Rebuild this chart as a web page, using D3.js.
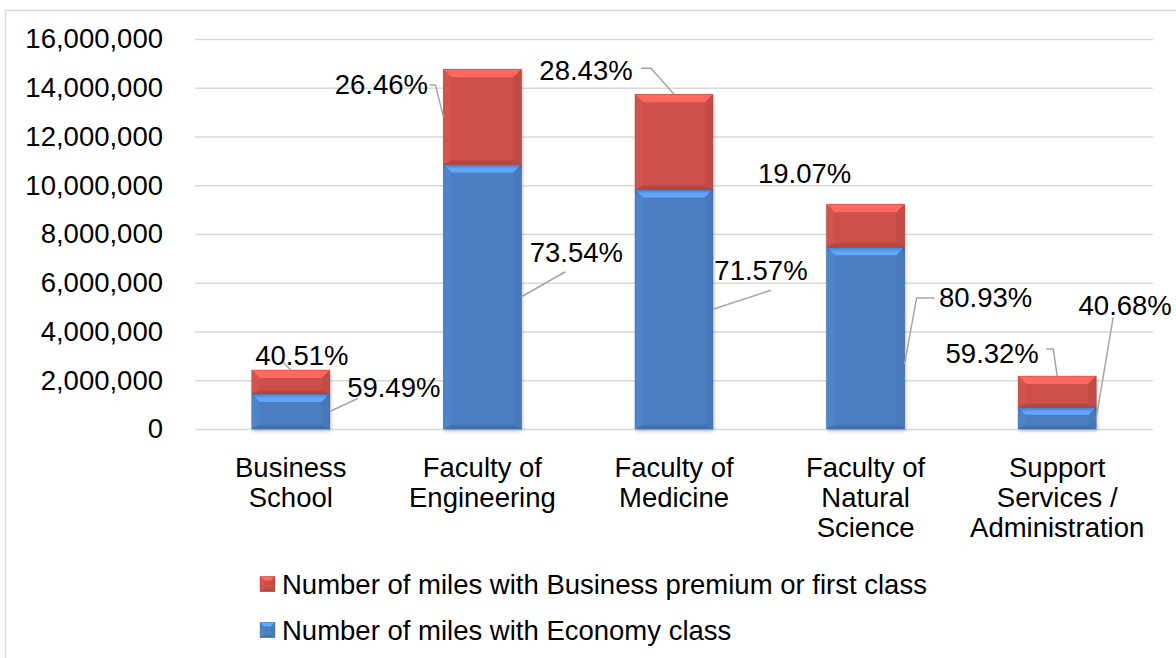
<!DOCTYPE html>
<html>
<head>
<meta charset="utf-8">
<script src="https://cdn.jsdelivr.net/npm/d3@7"></script>
<style>
  html, body { margin: 0; padding: 0; background: #fff; }
  svg text { font-family: "Liberation Sans", Arial, sans-serif; fill: #000; }
</style>
</head>
<body>
<svg class="chartSVG" width="1176" height="658"></svg>
<script>
// chart values
const categories = ['Business School', 'Faculty of Engineering', 'Faculty of Medicine', 'Faculty of Natural Science', 'Support Services / Administration'];
const categoryLines = [['Business', 'School'], ['Faculty of', 'Engineering'], ['Faculty of', 'Medicine'], ['Faculty of', 'Natural', 'Science'], ['Support', 'Services /', 'Administration']];
const economyMiles = [1440000, 10850000, 9830000, 7460000, 880000];
const businessMiles = [980000, 3910000, 3900000, 1760000, 1290000];
const economyPct = ['59.49%', '73.54%', '71.57%', '80.93%', '40.68%'];
const businessPct = ['40.51%', '26.46%', '28.43%', '19.07%', '59.32%'];
const yTicks = [0, 2000000, 4000000, 6000000, 8000000, 10000000, 12000000, 14000000, 16000000];
const seriesNames = ['Number of miles with Business premium or first class', 'Number of miles with Economy class'];

const width = 1176, height = 658;
const plot = { l: 195, r: 1153, t: 39, b: 429 };
const fontSize = 27.5;
const colors = { economy: '#4b7fc2', business: '#cc4f4a' };

const svg = d3.select('.chartSVG');

// outer frame of the chart area
svg.append('rect')
  .attr('x', 5.5).attr('y', 10.5)
  .attr('width', 1200).attr('height', 700)
  .attr('fill', '#fff')
  .attr('stroke', '#d9d9d9')
  .attr('stroke-width', 1.5);

const defs = svg.append('defs');
const shadow = defs.append('filter').attr('id', 'barShadow')
  .attr('x', '-10%').attr('y', '-10%').attr('width', '130%').attr('height', '130%');
shadow.append('feDropShadow')
  .attr('dx', 1).attr('dy', 2).attr('stdDeviation', 1.5)
  .attr('flood-color', '#000').attr('flood-opacity', 0.25);

const scaleX = d3.scaleBand()
  .domain(categories)
  .range([plot.l, plot.r])
  .paddingInner(0.593)
  .paddingOuter(0.2965);

const scaleY = d3.scaleLinear()
  .domain([0, 16000000])
  .range([plot.b, plot.t]);

// gridlines + y labels
const yAxis = svg.append('g')
  .attr('class', 'yAxis')
  .attr('transform', `translate(${plot.l}, 0)`)
  .call(d3.axisLeft(scaleY)
    .tickValues(yTicks)
    .tickSize(-(plot.r - plot.l))
    .tickPadding(32)
    .tickFormat(d3.format(',')));
yAxis.select('.domain').remove();
yAxis.selectAll('line').attr('stroke', '#d9d9d9').attr('stroke-width', 1.5);
yAxis.selectAll('text')
  .attr('font-size', fontSize)
  .attr('font-family', '"Liberation Sans", Arial, sans-serif')
  .attr('fill', '#000');

// stacked data
const stackData = categories.map((c, i) => ({ cat: c, economy: economyMiles[i], business: businessMiles[i] }));
const stack = d3.stack().keys(['economy', 'business'])(stackData);

function bevelSegment(g, x0, x1, y0, y1, color, maxB = 8) {
  const h = y1 - y0;
  const b = Math.min(maxB, h / 3);
  const bb = Math.min(4, h / 6);
  const base = d3.color(color);
  g.append('rect')
    .attr('x', x0).attr('y', y0)
    .attr('width', x1 - x0).attr('height', h)
    .attr('fill', color);
  const faces = [
    { pts: [[x0, y0], [x1, y0], [x1 - b, y0 + b], [x0 + b, y0 + b]], fill: base.brighter(0.75) },
    { pts: [[x0, y0], [x0 + b, y0 + b], [x0 + b, y1 - bb], [x0, y1]], fill: base.brighter(0.12) },
    { pts: [[x1, y0], [x1, y1], [x1 - b, y1 - bb], [x1 - b, y0 + b]], fill: base.darker(0.15) },
    { pts: [[x0, y1], [x0 + b, y1 - bb], [x1 - b, y1 - bb], [x1, y1]], fill: base.darker(0.35) }
  ];
  g.selectAll(null)
    .data(faces)
    .enter()
    .append('polygon')
    .attr('points', d => d.pts.map(p => p.join(',')).join(' '))
    .attr('fill', d => d.fill);
  g.append('rect')
    .attr('x', x0).attr('y', y0)
    .attr('width', x1 - x0).attr('height', h)
    .attr('fill', 'none')
    .attr('stroke', base.darker(0.8))
    .attr('stroke-opacity', 0.45)
    .attr('stroke-width', 0.8);
}

const barsG = svg.append('g').attr('class', 'bars');
stack.forEach(layer => {
  layer.forEach((d, i) => {
    const x0 = scaleX(categories[i]);
    const x1 = x0 + scaleX.bandwidth();
    const g = barsG.append('g').attr('filter', 'url(#barShadow)');
    bevelSegment(g, x0, x1, scaleY(d[1]), scaleY(d[0]), colors[layer.key]);
  });
});

// category labels
const xLabels = svg.append('g').attr('class', 'xLabel');
categoryLines.forEach((lines, i) => {
  const cx = scaleX(categories[i]) + scaleX.bandwidth() / 2;
  const t = xLabels.append('text')
    .attr('x', cx)
    .attr('y', 467)
    .attr('text-anchor', 'middle')
    .attr('font-size', fontSize);
  lines.forEach((ln, j) => {
    t.append('tspan')
      .attr('x', cx)
      .attr('dy', j === 0 ? '0.35em' : 30)
      .text(ln);
  });
});

// data label placement: offsets from the anchor point on the segment
const labelLayout = {
  business: [
    { anchor: 'top', dx: 11, dy: -15, leader: [[-8, -8], [0, 0]] },
    { anchor: 'left', dx: -62, dy: -33, leader: [[-14, -32], [-8, -32], [0, 0]] },
    { anchor: 'top', dx: -88, dy: -24, leader: [[-33, -26], [-23, -26], [0, 0]] },
    { anchor: 'top', dx: -61, dy: -31, leader: null },
    { anchor: 'top', dx: -65, dy: -23, leader: [[-11, -27], [-4, -27], [0, 0]] }
  ],
  economy: [
    { anchor: 'right', dx: 64, dy: -24, leader: [[28, -13], [0, 0]] },
    { anchor: 'right', dx: 55, dy: -44, leader: [[44, -25], [0, 0]] },
    { anchor: 'right', dx: 48, dy: -39, leader: [[58, -19], [0, 0]] },
    { anchor: 'right', dx: 81, dy: -41, leader: [[30, -40], [12, -40], [0, 26]] },
    { anchor: 'right', dx: 29, dy: -113, leader: [[17, -101], [0, 0]] }
  ]
};
const pctText = { business: businessPct, economy: economyPct };

const labelsG = svg.append('g').attr('class', 'dataLabels');
stack.forEach(layer => {
  layer.forEach((d, i) => {
    const lay = labelLayout[layer.key][i];
    const x0 = scaleX(categories[i]);
    const x1 = x0 + scaleX.bandwidth();
    const yTop = scaleY(d[1]), yBot = scaleY(d[0]);
    let ax, ay;
    if (lay.anchor === 'top') { ax = (x0 + x1) / 2; ay = yTop; }
    else if (lay.anchor === 'left') { ax = x0; ay = (yTop + yBot) / 2; }
    else { ax = x1; ay = (yTop + yBot) / 2; }
    if (lay.leader) {
      labelsG.append('polyline')
        .attr('points', lay.leader.map(p => `${ax + p[0]},${ay + p[1]}`).join(' '))
        .attr('fill', 'none')
        .attr('stroke', '#a6a6a6')
        .attr('stroke-width', 1.5);
    }
    labelsG.append('text')
      .attr('x', ax + lay.dx)
      .attr('y', ay + lay.dy)
      .attr('dy', '0.35em')
      .attr('text-anchor', 'middle')
      .attr('font-size', fontSize)
      .text(pctText[layer.key][i]);
  });
});

// legend
const legendKeys = ['business', 'economy'];
const legend = svg.append('g').attr('class', 'legend');
legendKeys.forEach((k, i) => {
  const cy = 584 + i * 46;
  const g = legend.append('g');
  bevelSegment(g, 260, 275, cy - 7.5, cy + 7.5, colors[k], 4);
  legend.append('text')
    .attr('x', 282)
    .attr('y', cy)
    .attr('dy', '0.35em')
    .attr('font-size', fontSize)
    .text(seriesNames[i]);
});
</script>
</body>
</html>
